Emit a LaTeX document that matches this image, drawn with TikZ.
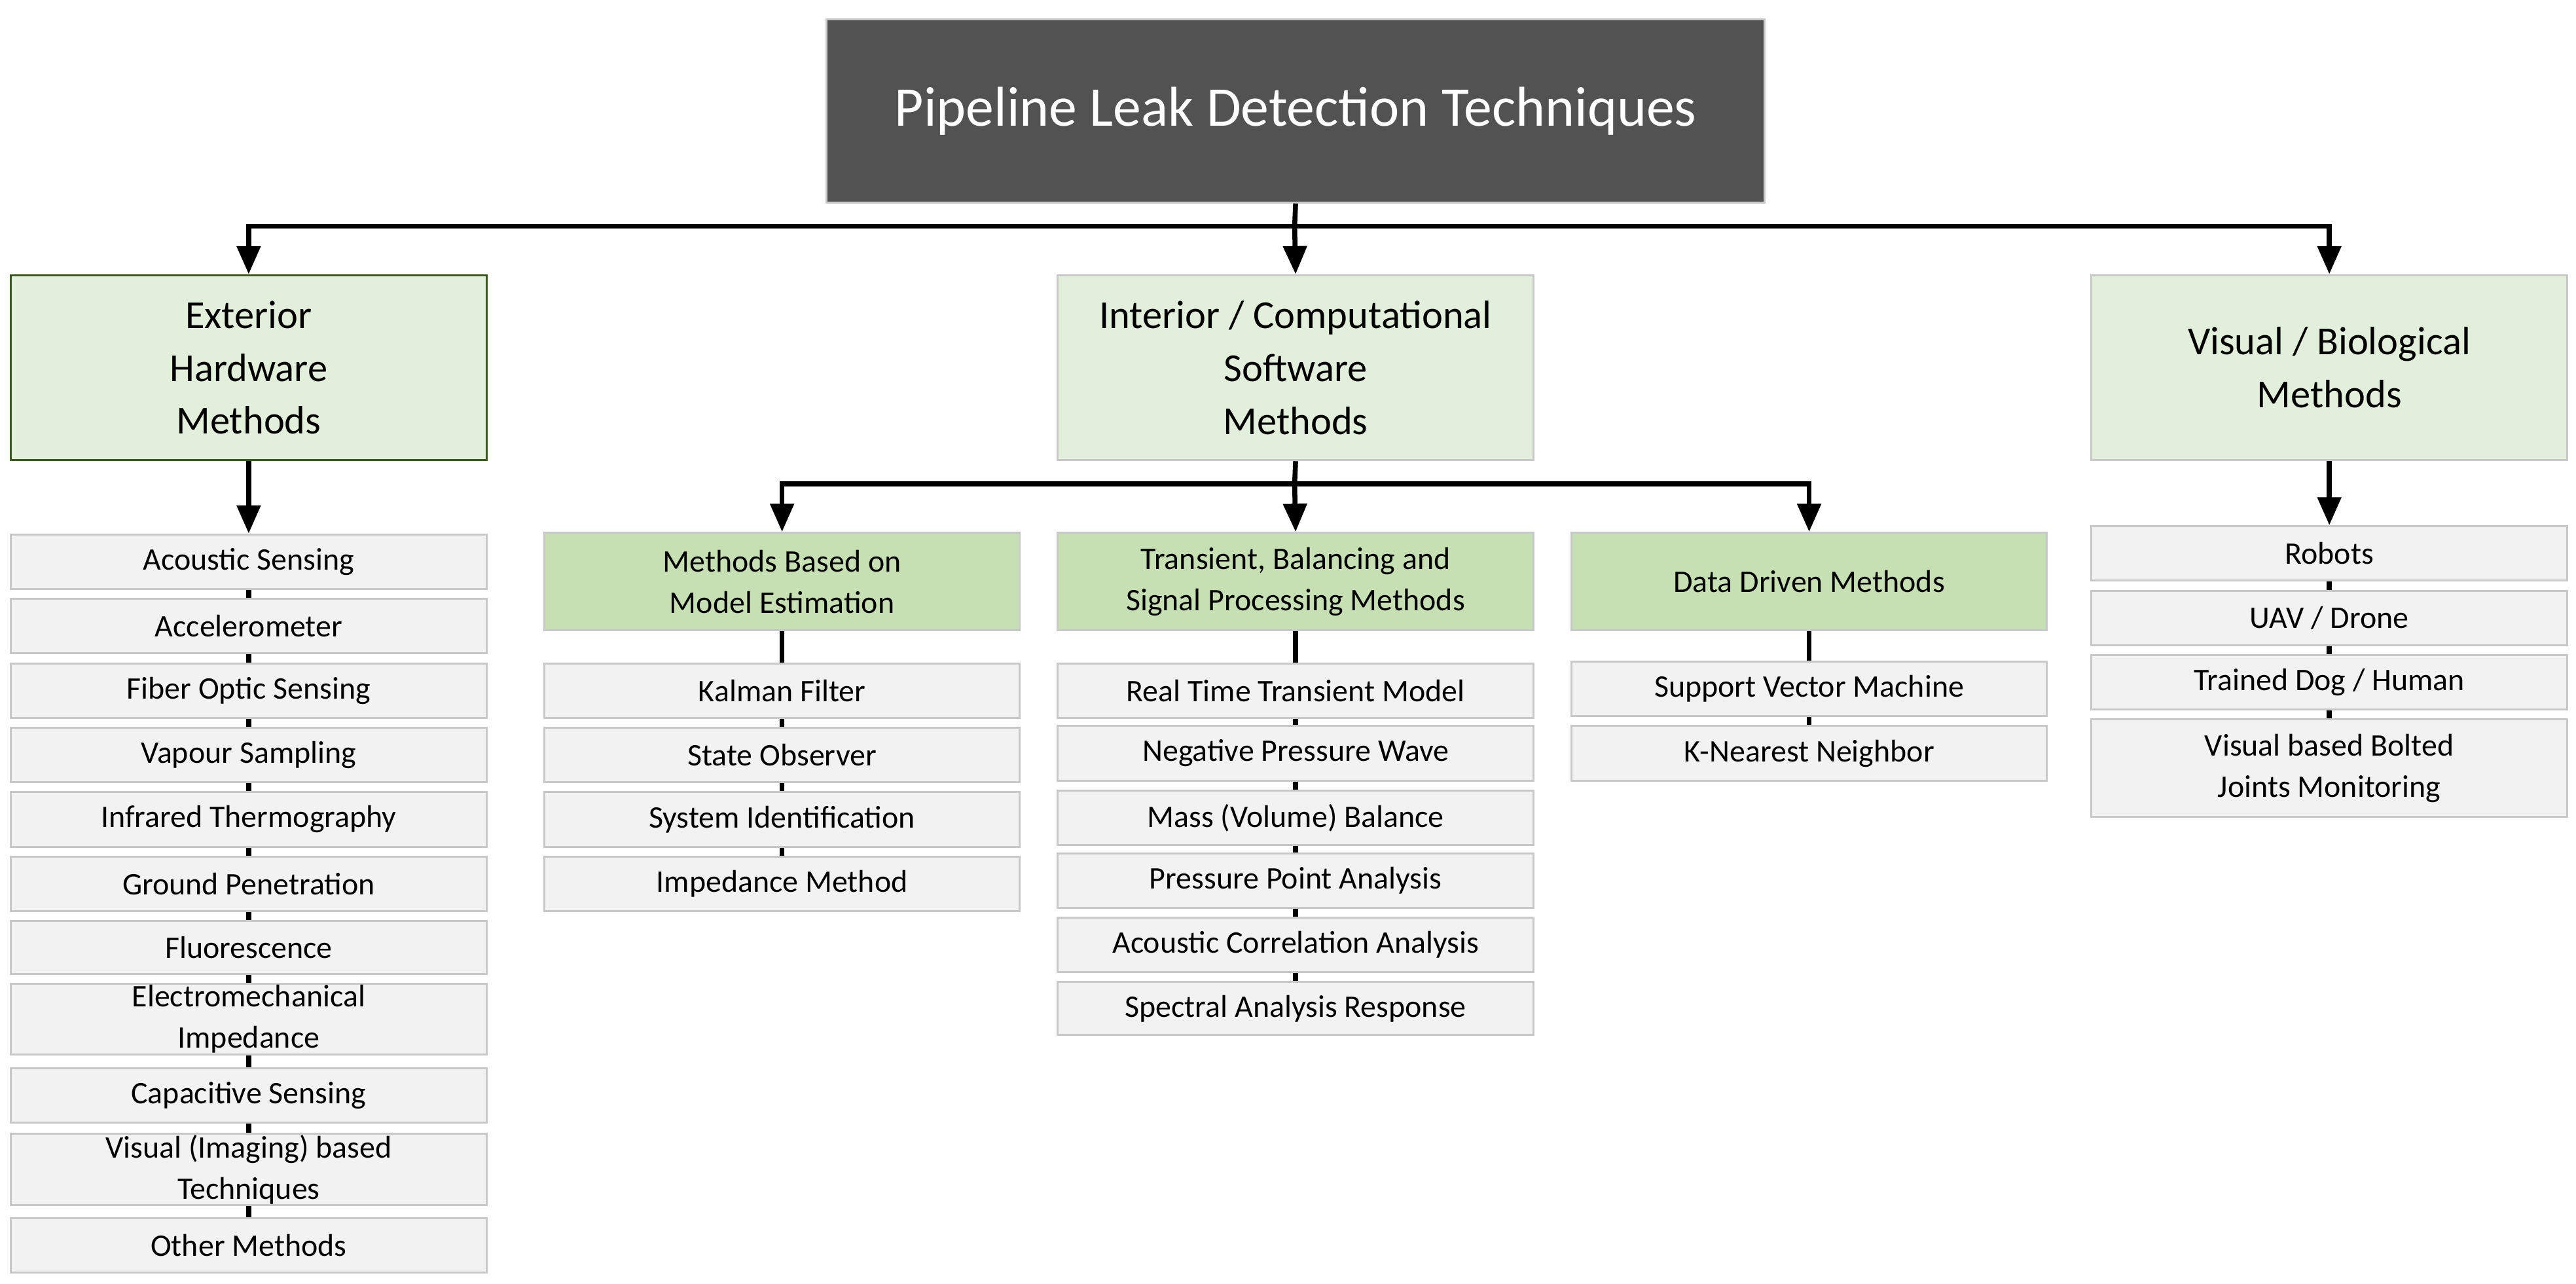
\documentclass[tikz,border=0pt]{standalone}
\usepackage{fontspec}
\setmainfont{Carlito}
\usetikzlibrary{arrows.meta}
\definecolor{titlefill}{HTML}{525252}
\definecolor{lone}{HTML}{E2EFDA}
\definecolor{ltwo}{HTML}{C6E0B4}
\definecolor{item}{HTML}{F2F2F2}
\definecolor{bord}{HTML}{C8C8C8}
\definecolor{dgreen}{HTML}{3B5A1E}
\tikzset{
  base/.style={draw=bord, line width=1.2pt, inner sep=0pt, align=center, anchor=north west},
  title/.style={base, fill=titlefill, text=white, font=\fontsize{34}{40}\selectfont},
  lvone/.style={base, fill=lone, font=\fontsize{24}{32}\selectfont},
  lvtwo/.style={base, fill=ltwo, font=\fontsize{19}{25}\selectfont},
  itm/.style={base, fill=item, font=\fontsize{19}{25}\selectfont},
  arr/.style={line width=3pt, -{Triangle[length=17pt,width=14pt]}},
  ln/.style={line width=3pt},
}
% \bx{name}{style}{x1}{y1}{x2}{y2}{text}
\newcommand{\bx}[7]{\node[#2, minimum width=#5pt-#3pt, minimum height=#6pt-#4pt] (#1) at (#3,#4) {#7};}
\begin{document}
\begin{tikzpicture}[x=1pt,y=-1pt]
\useasboundingbox (0,0) rectangle (1560,777.4);
% title
\bx{T}{title}{500}{11}{1068}{122}{Pipeline Leak Detection Techniques}
% level 1
\bx{E}{lvone, draw=dgreen}{6}{166}{294}{278}{Exterior\\Hardware\\Methods}
\bx{I}{lvone}{640}{166}{928}{278}{Interior / Computational\\Software\\Methods}
\bx{V}{lvone}{1266}{166}{1554}{278}{Visual / Biological\\Methods}
% level 2
\bx{M}{lvtwo}{329}{322}{617}{381}{Methods Based on\\Model Estimation}
\bx{S}{lvtwo}{640}{322}{928}{381}{Transient, Balancing and\\Signal Processing Methods}
\bx{D}{lvtwo}{951}{322}{1239}{381}{Data Driven Methods}
% connector lines (behind lists)
\begin{scope}[on background layer/.style={}]
\end{scope}
% exterior list
\bx{e1}{itm}{6}{323}{294}{356}{Acoustic Sensing}
\bx{e2}{itm}{6}{362}{294}{395}{Accelerometer}
\bx{e3}{itm}{6}{401}{294}{434}{Fiber Optic Sensing}
\bx{e4}{itm}{6}{440}{294}{473}{Vapour Sampling}
\bx{e5}{itm}{6}{479}{294}{512}{Infrared Thermography}
\bx{e6}{itm}{6}{518}{294}{551}{Ground Penetration}
\bx{e7}{itm}{6}{557}{294}{589}{Fluorescence}
\bx{e8}{itm}{6}{595}{294}{638}{Electromechanical\\Impedance}
\bx{e9}{itm}{6}{646}{294}{679}{Capacitive Sensing}
\bx{e10}{itm}{6}{686}{294}{729}{Visual (Imaging) based\\Techniques}
\bx{e11}{itm}{6}{737}{294}{770}{Other Methods}
% model list
\bx{m1}{itm}{329}{401}{617}{434}{Kalman Filter}
\bx{m2}{itm}{329}{440}{617}{473}{State Observer}
\bx{m3}{itm}{329}{479}{617}{512}{System Identification}
\bx{m4}{itm}{329}{518}{617}{551}{Impedance Method}
% signal list
\bx{s1}{itm}{640}{401}{928}{434}{Real Time Transient Model}
\bx{s2}{itm}{640}{439}{928}{472}{Negative Pressure Wave}
\bx{s3}{itm}{640}{478}{928}{511}{Mass (Volume) Balance}
\bx{s4}{itm}{640}{516}{928}{549}{Pressure Point Analysis}
\bx{s5}{itm}{640}{555}{928}{588}{Acoustic Correlation Analysis}
\bx{s6}{itm}{640}{594}{928}{626}{Spectral Analysis Response}
% data list
\bx{d1}{itm}{951}{400}{1239}{433}{Support Vector Machine}
\bx{d2}{itm}{951}{439}{1239}{472}{K-Nearest Neighbor}
% visual list
\bx{v1}{itm}{1266}{318}{1554}{351}{Robots}
\bx{v2}{itm}{1266}{357}{1554}{390}{UAV / Drone}
\bx{v3}{itm}{1266}{396}{1554}{429}{Trained Dog / Human}
\bx{v4}{itm}{1266}{435}{1554}{494}{Visual based Bolted\\Joints Monitoring}
% top arrows
\coordinate (tb) at (784,137);
\draw[ln] (T.south) -- (tb);
\draw[arr] (tb) -| (E.north);
\draw[arr] (tb) -- (I.north);
\draw[arr] (tb) -| (V.north);
% interior arrows
\coordinate (ib) at (784,293);
\draw[ln] (I.south) -- (ib);
\draw[arr] (ib) -| (M.north);
\draw[arr] (ib) -- (S.north);
\draw[arr] (ib) -| (D.north);
\draw[arr] (E.south) -- (e1.north);
\draw[arr] (V.south) -- (v1.north);
% list connectors
\foreach \a/\b in {e1/e2,e2/e3,e3/e4,e4/e5,e5/e6,e6/e7,e7/e8,e8/e9,e9/e10,e10/e11,
  M/m1,m1/m2,m2/m3,m3/m4,S/s1,s1/s2,s2/s3,s3/s4,s4/s5,s5/s6,D/d1,d1/d2,v1/v2,v2/v3,v3/v4}
  \draw[ln] (\a.south) -- (\b.north);
\end{tikzpicture}
\end{document}
